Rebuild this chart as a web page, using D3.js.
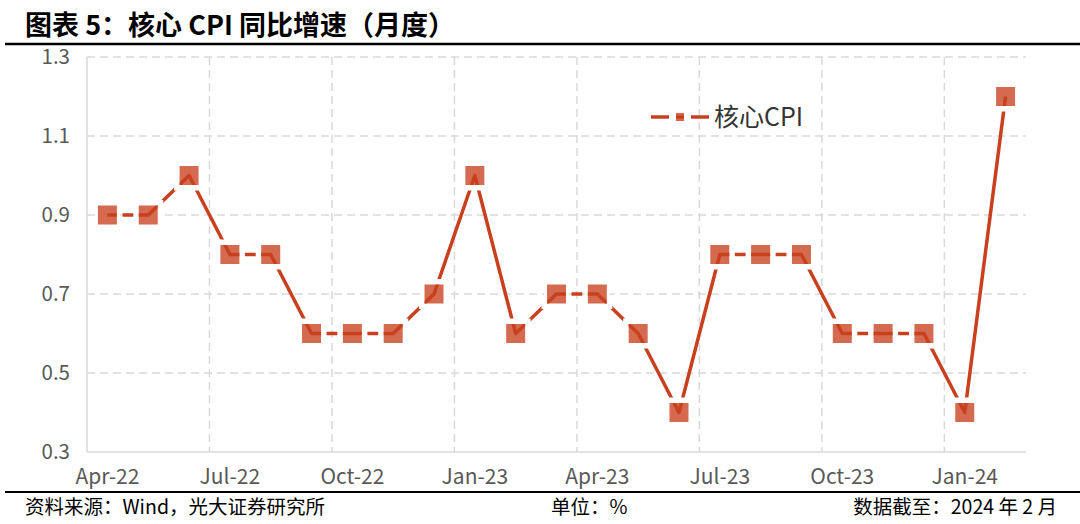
<!DOCTYPE html>
<html><head><meta charset="utf-8">
<script src="https://cdn.jsdelivr.net/npm/d3@7"></script>
<style>
html,body{margin:0;padding:0;background:#fff;}
svg{display:block;font-family:"Noto Sans CJK SC","Noto Sans",sans-serif;}
</style></head>
<body><svg id="c" width="1080" height="524"></svg>
<script>
const months = ["Apr-22","May-22","Jun-22","Jul-22","Aug-22","Sep-22","Oct-22","Nov-22","Dec-22",
  "Jan-23","Feb-23","Mar-23","Apr-23","May-23","Jun-23","Jul-23","Aug-23","Sep-23","Oct-23","Nov-23","Dec-23",
  "Jan-24","Feb-24"];
const coreCPI = [0.9,0.9,1.0,0.8,0.8,0.6,0.6,0.6,0.7,1.0,0.6,0.7,0.7,0.6,0.4,0.8,0.8,0.8,0.6,0.6,0.6,0.4,1.2];
const xTickLabels = ["Apr-22","Jul-22","Oct-22","Jan-23","Apr-23","Jul-23","Oct-23","Jan-24"];
const yTicks = [0.3,0.5,0.7,0.9,1.1,1.3];
const seriesName = "核心CPI";
const title = "图表 5：核心 CPI 同比增速（月度）";
const source = "资料来源：Wind，光大证券研究所";
const unit = "单位：%";
const asOf = "数据截至：2024 年 2 月";

const svg = d3.select("#c");
const L = 87, R = 1026, T = 57, B = 452;
const x = d3.scaleBand().domain(months).range([L, R]).padding(0);
const y = d3.scaleLinear().domain([0.3, 1.3]).range([B, T]);
const cx = m => x(m) + x.bandwidth()/2;

const lineColor = "#c8401e";
const gridColor = "#d9d9d9";
const S = 19, G = 5.5;

// title
svg.append("text").attr("x", 25).attr("y", 35).attr("font-size", 27).attr("font-weight", "bold")
  .attr("fill", "#000").text(title);
svg.append("line").attr("x1", 5).attr("x2", 1080).attr("y1", 44).attr("y2", 44)
  .attr("stroke", "#000").attr("stroke-width", 2.5);

// horizontal gridlines
svg.append("g").selectAll("line").data(yTicks.filter(v => v > 0.3)).join("line")
  .attr("x1", L).attr("x2", R).attr("y1", d => y(d)).attr("y2", d => y(d))
  .attr("stroke", gridColor).attr("stroke-width", 1.5).attr("stroke-dasharray", "8,5");
// vertical gridlines at quarter boundaries
svg.append("g").selectAll("line").data(xTickLabels.slice(1)).join("line")
  .attr("x1", d => x(d)).attr("x2", d => x(d)).attr("y1", T).attr("y2", B)
  .attr("stroke", gridColor).attr("stroke-width", 1.5).attr("stroke-dasharray", "8,5");
// axes lines
svg.append("line").attr("x1", L).attr("x2", L).attr("y1", T).attr("y2", B)
  .attr("stroke", gridColor).attr("stroke-width", 1.5);
svg.append("line").attr("x1", L).attr("x2", R).attr("y1", B).attr("y2", B)
  .attr("stroke", gridColor).attr("stroke-width", 1.5);

// y labels
svg.append("g").selectAll("text").data(yTicks).join("text")
  .attr("x", 70).attr("y", d => y(d)).attr("dy", "0.35em").attr("text-anchor", "end")
  .attr("font-size", 20.5).attr("fill", "#595959").text(d => d.toFixed(1));
// x labels
svg.append("g").selectAll("text").data(xTickLabels).join("text")
  .attr("x", d => cx(d)).attr("y", 484).attr("text-anchor", "middle")
  .attr("font-size", 21).attr("fill", "#595959").text(d => d);

// points
const pts = months.map((m, i) => ({x: cx(m), y: y(coreCPI[i]), s: S, g: G}));
const legX = 680, legY = 117;
const legMark = {x: legX, y: legY, s: 8, g: 7};
const allMarks = pts.concat([legMark]);

// mask to cut the line around markers
const defs = svg.append("defs");
const mask = defs.append("mask").attr("id", "halo").attr("maskUnits", "userSpaceOnUse")
  .attr("x", 0).attr("y", 0).attr("width", 1080).attr("height", 524);
mask.append("rect").attr("width", 1080).attr("height", 524).attr("fill", "#fff");
mask.selectAll("rect.o").data(allMarks).join("rect").attr("class", "o")
  .attr("x", d => d.x - d.s/2 - d.g).attr("y", d => d.y - d.s/2 - d.g)
  .attr("width", d => d.s + 2*d.g).attr("height", d => d.s + 2*d.g).attr("fill", "#000");
mask.selectAll("rect.i").data(allMarks).join("rect").attr("class", "i")
  .attr("x", d => d.x - d.s/2).attr("y", d => d.y - d.s/2)
  .attr("width", d => d.s).attr("height", d => d.s).attr("fill", "#fff");

// white halos over grid
svg.append("g").selectAll("rect").data(allMarks).join("rect")
  .attr("x", d => d.x - d.s/2 - 3).attr("y", d => d.y - d.s/2 - 3)
  .attr("width", d => d.s + 6).attr("height", d => d.s + 6).attr("fill", "#fff");

const lineGen = d3.line().x(d => d.x).y(d => d.y);
svg.append("path").datum(pts).attr("d", lineGen).attr("fill", "none")
  .attr("stroke", lineColor).attr("stroke-width", 3.5).attr("stroke-linejoin", "round")
  .attr("mask", "url(#halo)");
// legend line
svg.append("line").attr("x1", 651).attr("x2", 709).attr("y1", legY).attr("y2", legY)
  .attr("stroke", lineColor).attr("stroke-width", 3.5).attr("mask", "url(#halo)");

// markers
svg.append("g").selectAll("rect").data(allMarks).join("rect")
  .attr("x", d => d.x - d.s/2).attr("y", d => d.y - d.s/2).attr("width", d => d.s).attr("height", d => d.s)
  .attr("fill", lineColor).attr("fill-opacity", 0.78);
svg.append("text").attr("x", 714).attr("y", legY).attr("dy", "0.35em").attr("font-size", 25)
  .attr("fill", "#333").text(seriesName);

// footer
svg.append("line").attr("x1", 5).attr("x2", 1080).attr("y1", 492).attr("y2", 492)
  .attr("stroke", "#000").attr("stroke-width", 2);
svg.append("text").attr("x", 25).attr("y", 514).attr("font-size", 19.5).attr("fill", "#000").text(source);
svg.append("text").attr("x", 551).attr("y", 514).attr("font-size", 19.5).attr("fill", "#000").text(unit);
svg.append("text").attr("x", 1057).attr("y", 514).attr("text-anchor", "end").attr("font-size", 19.5).attr("fill", "#000").text(asOf);
</script></body></html>
